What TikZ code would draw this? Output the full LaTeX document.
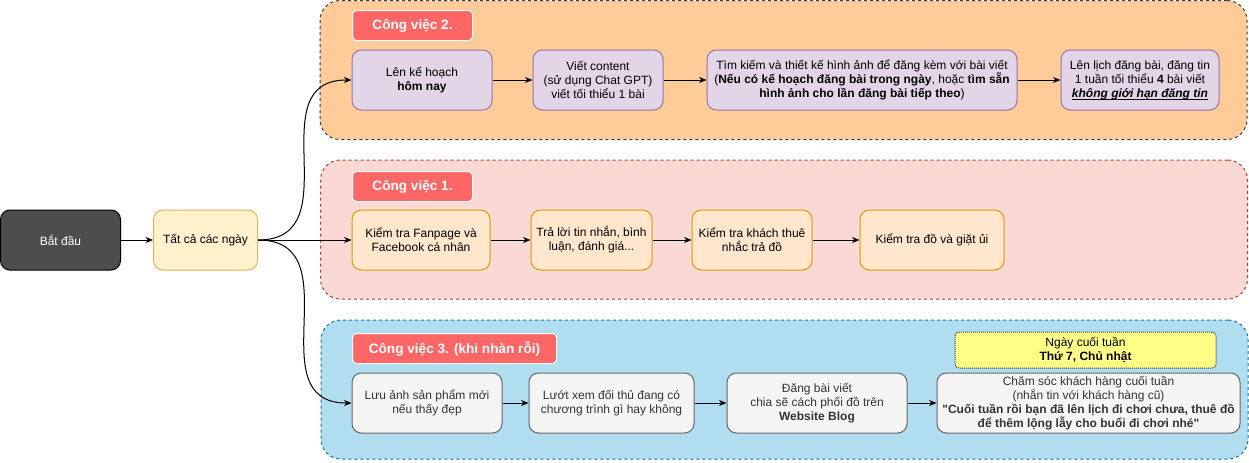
\documentclass[tikz,border=0pt]{standalone}
\usepackage{fontspec}
\setmainfont{Liberation Sans}[Ligatures=TeXOff]
\usetikzlibrary{shapes, arrows.meta}
\usetikzlibrary{positioning}
\definecolor{grporange}{HTML}{FFCC99}
\definecolor{grppink}{HTML}{FAD9D5}
\definecolor{grpblue}{HTML}{B1DDF0}
\definecolor{edgedark}{HTML}{36393D}
\definecolor{edgered}{HTML}{AE4132}
\definecolor{edgeblue}{HTML}{10739E}
\definecolor{titlered}{HTML}{FF6666}
\definecolor{boxpurple}{HTML}{E1D5E7}
\definecolor{edgepurple}{HTML}{9673A6}
\definecolor{boxorange}{HTML}{FFE6CC}
\definecolor{edgeorange}{HTML}{D79B00}
\definecolor{boxyellow}{HTML}{FFF2CC}
\definecolor{edgeyellow}{HTML}{D6B656}
\definecolor{boxgrey}{HTML}{F5F5F5}
\definecolor{edgegrey}{HTML}{666666}
\definecolor{textgrey}{HTML}{333333}
\definecolor{boxdark}{HTML}{4D4D4D}
\definecolor{notey}{HTML}{FFFF88}
\tikzstyle{grp} = [rectangle,
rounded corners=15pt,
minimum width=695.25pt,
minimum height=104.25pt,
line width=0.75pt,
dash pattern=on 2.25pt off 2.25pt]
\tikzstyle{grptitle} = [rectangle,
rounded corners=3pt,
minimum height=22.5pt,
fill=titlered,
draw=white,
text=white,
line width=0.75pt,
font=\fontsize{10.2}{12}\selectfont\bfseries]
\tikzstyle{rect} = [rectangle,
rounded corners=7pt,
minimum height=45pt,
inner sep=2pt,
align=center,
line width=0.75pt]
\tikzstyle{purplebox} = [rect, fill=boxpurple, draw=edgepurple]
\tikzstyle{orangebox} = [rect, fill=boxorange, draw=edgeorange]
\tikzstyle{greybox} = [rect, fill=boxgrey, draw=edgegrey, text=textgrey]
\tikzstyle{arrow} = [line width=0.75pt,->,>={Stealth[length=5.5pt,width=4.5pt,inset=1.5pt]}]

\begin{document}
\begin{tikzpicture}[x=0.75pt, y=-0.75pt, font=\fontsize{9}{10.5}\selectfont]

\useasboundingbox (0,0) rectangle (1249,462);

% groups
\node (job2) [grp, fill=grporange, draw=edgedark] at (783.5,70) {};
\node (job1) [grp, fill=grppink, draw=edgered] at (784,229.5) {};
\node (job3) [grp, fill=grpblue, draw=edgeblue] at (784.5,389.5) {};

\node (t2) [grptitle, minimum width=90pt, anchor=north west] at (352,10) {Công việc 2.};
\node (t1) [grptitle, minimum width=90pt, anchor=north west] at (352,171) {Công việc 1.};
\node (t3) [grptitle, minimum width=153pt, anchor=north west] at (352,333) {Công việc 3. (khi nhàn rỗi)};

% start
\node (start) [rect, fill=boxdark, draw=black, text=white, minimum width=90pt] at (60.5,240) {Bắt đầu};
\node (alldays) [rect, fill=boxyellow, draw=edgeyellow, minimum width=78pt, right=24pt of start] {Tất cả các ngày};

% cong viec 2
\node (plan) [purplebox, minimum width=105pt] at (422,80) {
  Lên kế hoạch\\
  \textbf{hôm nay}
};

\node (content) [purplebox, minimum width=97.5pt, right=30pt of plan] {
  Viết content\\
  (sử dụng Chat GPT)\\
  viết tối thiểu 1 bài
};

\node (image) [purplebox, minimum width=232.5pt, right=32.25pt of content] {
  Tìm kiếm và thiết kế hình ảnh để đăng kèm với bài viết\\
  (\textbf{Nếu có kế hoạch đăng bài trong ngày}, hoặc \textbf{tìm sẵn}\\
  \textbf{hình ảnh cho lần đăng bài tiếp theo})
};

\node (sched) [purplebox, minimum width=118.5pt, right=32.25pt of image] {
  Lên lịch đăng bài, đăng tin\\
  1 tuần tối thiểu \textbf{4} bài viết\\
  \textbf{\textit{\underline{\smash{không giới hạn đăng tin}}}}
};

% cong viec 1
\node (fanpage) [orangebox, minimum width=103.5pt] at (421,240) {
  Kiểm tra Fanpage và\\
  Facebook cá nhân
};

\node (reply) [orangebox, minimum width=90.75pt, right=30pt of fanpage] {
  Trả lời tin nhắn, bình\\
  luận, đánh giá...
};

\node (remind) [orangebox, minimum width=90pt, right=29.25pt of reply] {
  Kiểm tra khách thuê\\
  nhắc trả đồ
};

\node (laundry) [orangebox, minimum width=108pt, right=35.25pt of remind] {Kiểm tra đồ và giặt ủi};

% cong viec 3
\node (save) [greybox, minimum width=112.5pt] at (427,403) {
  Lưu ảnh sản phẩm mới\\
  nếu thấy đẹp
};

\node (rival) [greybox, minimum width=123.75pt, right=19.5pt of save] {
  Lướt xem đối thủ đang có\\
  chương trình gì hay không
};

\node (blog) [greybox, minimum width=135pt, right=24pt of rival] {
  Đăng bài viết\\
  chia sẽ cách phối đồ trên\\
  \textbf{Website Blog}
};

\node (care) [greybox, minimum width=227.25pt, inner sep=1pt, right=21.75pt of blog] {
  Chăm sóc khách hàng cuối tuần\\
  (nhắn tin với khách hàng cũ)\\
  \textbf{"Cuối tuần rồi bạn đã lên lịch đi chơi chưa, thuê đồ}\\
  \textbf{để thêm lộng lẫy cho buổi đi chơi nhé"}
};

\node (weekend) [rectangle, rounded corners=3pt, fill=notey, draw=edgedark, line width=0.75pt,
  dash pattern=on 0.75pt off 0.75pt, minimum width=195.75pt, minimum height=27pt,
  align=center, inner sep=1pt, above=3pt of care, xshift=-2.25pt] {
  Ngày cuối tuần\\
  \textbf{Thứ 7, Chủ nhật}
};

\draw [arrow] (start) -- (alldays);
\draw [arrow] (alldays.east) to[out=0, in=180, looseness=1.3] (plan.west);
\draw [arrow] (alldays) -- (fanpage);
\draw [arrow] (alldays.east) to[out=0, in=180, looseness=1.3] (save.west);
\draw [arrow] (plan) -- (content);
\draw [arrow] (content) -- (image);
\draw [arrow] (image) -- (sched);
\draw [arrow] (fanpage) -- (reply);
\draw [arrow] (reply) -- (remind);
\draw [arrow] (remind) -- (laundry);
\draw [arrow] (save) -- (rival);
\draw [arrow] (rival) -- (blog);
\draw [arrow] (blog) -- (care);

\end{tikzpicture}
\end{document}
